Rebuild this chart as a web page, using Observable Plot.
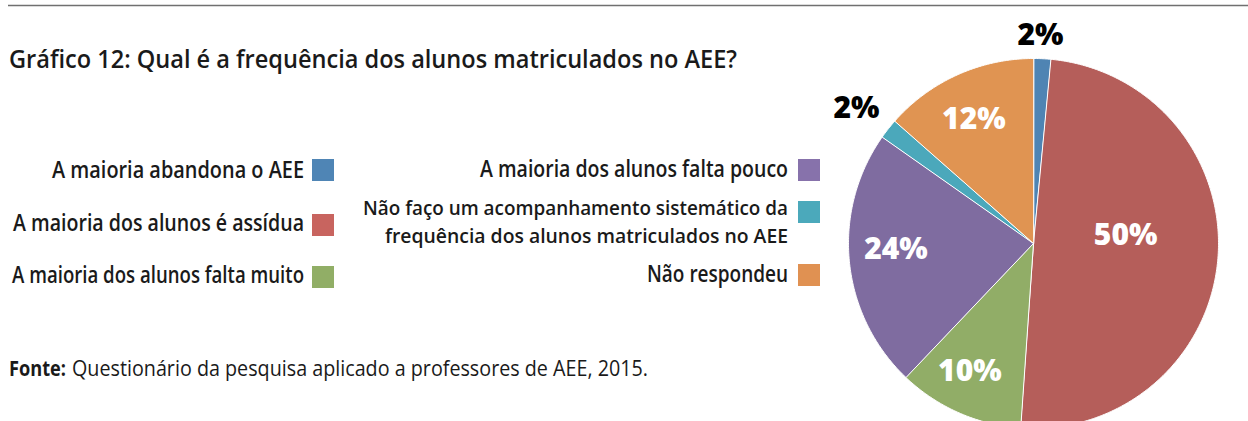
<!DOCTYPE html>
<html><head><meta charset="utf-8">
<script src="https://cdn.jsdelivr.net/npm/d3@7"></script>
<script src="https://cdn.jsdelivr.net/npm/@observablehq/plot@0.6"></script>
<style>
html,body{margin:0;padding:0;background:#fff;}
#wrap{position:relative;width:1248px;height:421px;overflow:hidden;}
#wrap svg{position:absolute;left:0;top:0;}
</style></head><body><div id="wrap"></div>
<script>
// ---- data ----
const categories = [
  "A maioria abandona o AEE",
  "A maioria dos alunos é assídua",
  "A maioria dos alunos falta muito",
  "A maioria dos alunos falta pouco",
  "Não faço um acompanhamento sistemático da\nfrequência dos alunos matriculados no AEE",
  "Não respondeu"
];
const values = [1.5, 49.6, 11.0, 22.65, 1.75, 13.5];
const valueLabels = ["2%", "50%", "10%", "24%", "2%", "12%"];
const sliceColors = ["#4f84b3", "#b55e5a", "#91ad67", "#7f6ca0", "#4ba8bb", "#e09452"];
const legendColors = ["#4f85b5", "#c8645f", "#91ae66", "#8772ab", "#4ba9bb", "#e09152"];
const titleText = "Gráfico 12: Qual é a frequência dos alunos matriculados no AEE?";
const sourceLabel = "Fonte:";
const sourceText = "Questionário da pesquisa aplicado a professores de AEE, 2015.";

// ---- layout ----
const W = 1248, H = 421;
const cx = 1033, cy = 243, R = 185;
// label placement inside each slice: t = fraction along slice angle, f = fraction of radius
const labelPlace = [{t: 0.36, f: 1.125}, {t: 0.444, f: 0.5}, {t: 0.57, f: 0.77}, {t: 0.54, f: 0.744}, {t: 0.37, f: 1.205}, {t: 0.47, f: 0.742}];

const data = categories.map((c, i) => ({cat: c, value: values[i], label: valueLabels[i]}));
const arcs = d3.pie().sort(null).value(d => d.value)(data);

const pts = [];
arcs.forEach(a => {
  const cat = a.data.cat;
  pts.push({cat, x: cx, y: cy});
  const n = Math.max(4, Math.ceil((a.endAngle - a.startAngle) / (Math.PI / 360)));
  for (let k = 0; k <= n; k++) {
    const t = a.startAngle + (a.endAngle - a.startAngle) * k / n;
    pts.push({cat, x: cx + R * Math.sin(t), y: cy - R * Math.cos(t)});
  }
});
const labels = arcs.map((a, i) => {
  const p = labelPlace[i];
  const m = a.startAngle + (a.endAngle - a.startAngle) * p.t;
  return {label: a.data.label, x: cx + R * p.f * Math.sin(m), y: cy - R * p.f * Math.cos(m), inside: p.f < 1};
});

const chart = Plot.plot({
  width: W, height: H, margin: 0,
  x: {domain: [0, W], axis: null},
  y: {domain: [H, 0], axis: null},
  color: {domain: categories, range: sliceColors},
  style: {background: "transparent"},
  marks: [
    Plot.line(pts, {x: "x", y: "y", z: "cat", fill: "cat", stroke: "white", strokeWidth: 1, curve: "linear-closed"}),
    Plot.text(labels.filter(d => d.inside), {x: "x", y: "y", text: "label", fill: "white", fontSize: 30, fontWeight: 800, fontFamily: "Open Sans"}),
    Plot.text(labels.filter(d => !d.inside), {x: "x", y: "y", text: "label", fill: "black", fontSize: 30, fontWeight: 800, fontFamily: "Open Sans"})
  ]
});
const wrap = document.getElementById("wrap");
wrap.appendChild(chart);

// ---- overlay: rule, title, legend, source ----
const svg = d3.select(wrap).append("svg").attr("width", W).attr("height", H);
svg.append("line").attr("x1", 8).attr("x2", W).attr("y1", 5.5).attr("y2", 5.5).attr("stroke", "#707070").attr("stroke-width", 1.6);

function txt(str, x, y, width, size, weight, anchor) {
  return svg.append("text").attr("x", x).attr("y", y)
    .attr("font-family", "Open Sans").attr("font-size", size).attr("font-weight", weight)
    .attr("fill", "#1a1a1a").attr("text-anchor", anchor || "start")
    .attr("textLength", width).attr("lengthAdjust", "spacingAndGlyphs").text(str);
}
txt(titleText, 9, 68, 728, 26, 600);

// legend
const legendCols = [
  {rows: [0, 1, 2], textRight: 304, sqX: 312, sqY: [159, 214, 266], base: [[178], [231], [283]], widths: [[252], [291], [292]], size: [22.5, 22.5, 22.5]},
  {rows: [3, 4, 5], textRight: 788, sqX: 798, sqY: [159, 201, 264], base: [[177], [214.5, 242.5], [282]], widths: [[308], [425, 403], [141]], size: [22.5, 20.5, 22.5]}
];
legendCols.forEach(col => {
  col.rows.forEach((ci, r) => {
    svg.append("rect").attr("x", col.sqX).attr("y", col.sqY[r]).attr("width", 22).attr("height", 22).attr("fill", legendColors[ci]);
    categories[ci].split("\n").forEach((line, li) => {
      txt(line, col.textRight, col.base[r][li], col.widths[r][li], col.size[r], 600, "end");
    });
  });
});

// source
txt(sourceLabel, 9, 376, 57, 22, 700);
txt(sourceText, 72, 376, 576, 22, 400);
</script></body></html>
